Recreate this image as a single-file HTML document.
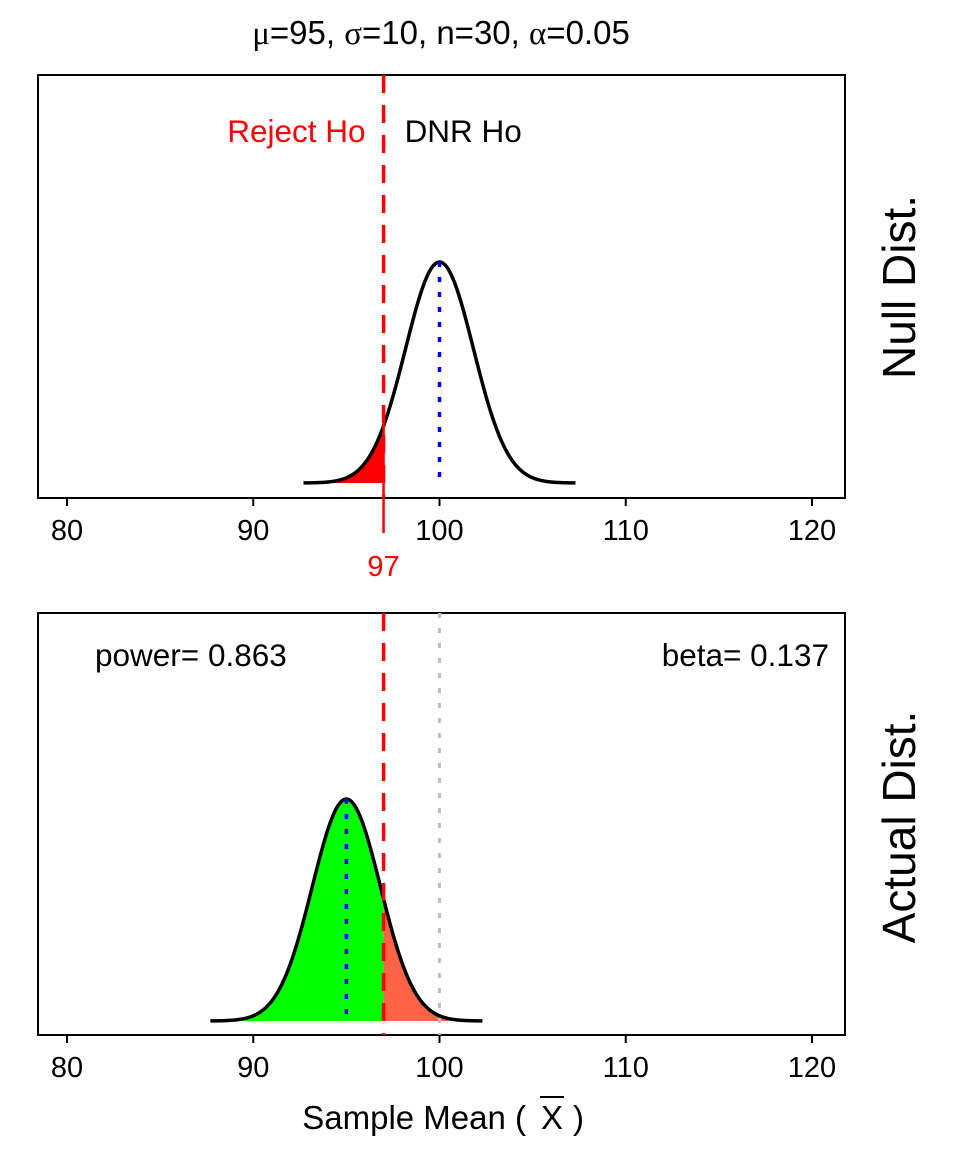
<!DOCTYPE html>
<html><head><meta charset="utf-8">
<style>
body{margin:0;background:#fff;}
svg text{font-family:"Liberation Sans",Arial,sans-serif;}
.g{font-family:"Liberation Serif",serif;}
</style></head>
<body>
<svg id="chart" width="960" height="1152" viewBox="0 0 960 1152" xmlns="http://www.w3.org/2000/svg">
<rect width="960" height="1152" fill="#fff"/>
<text x="441" y="44" font-size="33" text-anchor="middle"><tspan class="g">μ</tspan>=95, <tspan class="g">σ</tspan>=10, n=30, <tspan class="g">α</tspan>=0.05</text>
<g id="top"></g>
<g id="bot"></g>
<text transform="translate(915,287) rotate(-90)" font-size="46" text-anchor="middle">Null Dist.</text>
<text transform="translate(915,827) rotate(-90)" font-size="46" text-anchor="middle">Actual Dist.</text>
<text x="526" y="1129" font-size="33" text-anchor="end">Sample Mean (</text>
<text x="552" y="1129" font-size="33" text-anchor="middle">X</text>
<text x="573" y="1129" font-size="33" text-anchor="start">)</text>
<line x1="540" y1="1097" x2="564" y2="1097" stroke="#000" stroke-width="2"/>
</svg>
<script>
const tickValues=[80,90,100,110,120];
const nullMean=[100];
const actualMean=[95];
const sigmaN=[10,30];
const alphaVal=[0.05];
const labelsText=["power= 0.863","beta= 0.137"];
const NS="http://www.w3.org/2000/svg";
const se=sigmaN[0]/Math.sqrt(sigmaN[1]);
const crit=nullMean[0]-1.6449*se;
function X(v){return 67+(v-80)*18.625;}
function mk(parent,tag,attrs){const e=document.createElementNS(NS,tag);for(const k in attrs)e.setAttribute(k,attrs[k]);parent.appendChild(e);return e;}
function dens(x,m){return Math.exp(-0.5*((x-m)/se)**2);}
function panel(g,top,bottom,base,peak,mean,isNull){
  const Y=v=>base-v*(base-peak);
  const box=mk(g,'rect',{x:38,y:top,width:807,height:bottom-top,fill:'none',stroke:'#000','stroke-width':2});
  
  tickValues.forEach(t=>{
    const l=mk(g,'line',{x1:X(t),y1:bottom,x2:X(t),y2:bottom+8,stroke:'#000','stroke-width':2});
    
    const tx=mk(g,'text',{x:X(t),y:bottom+42,'font-size':29,'text-anchor':'middle'});tx.textContent=t;
    
  });
  const lo=mean-4*se,hi=mean+4*se;
  function area(a,b,fill,name){
    let d=`M${X(a)},${base}`;
    for(let i=0;i<=100;i++){const x=a+(b-a)*i/100;d+=`L${X(x)},${Y(dens(x,mean))}`;}
    d+=`L${X(b)},${base}Z`;
    const p=mk(g,'path',{d:d,fill:fill});
    
  }
  if(isNull){area(lo,crit,'#ff0000','rejection-region');}
  else{area(lo,crit,'#00ff00','power-region');area(crit,hi,'#ff6347','beta-region');}
  let d='';
  for(let i=0;i<=200;i++){const x=lo+(hi-lo)*i/200;d+=(i?'L':'M')+X(x)+','+Y(dens(x,mean));}
  const c=mk(g,'path',{d:d,fill:'none',stroke:'#000','stroke-width':3.5});
  
  if(!isNull){
    const gl=mk(g,'line',{x1:X(nullMean[0]),y1:top,x2:X(nullMean[0]),y2:bottom,stroke:'#bebebe','stroke-width':3,'stroke-dasharray':'5,10'});
    
  }
  const bl=mk(g,'line',{x1:X(mean),y1:Y(1),x2:X(mean),y2:base,stroke:'#0000ff','stroke-width':3.5,'stroke-dasharray':'5,10'});
  
  const rl=mk(g,'line',{x1:X(crit),y1:top,x2:X(crit),y2:bottom,stroke:'#ff0000','stroke-width':3.5,'stroke-dasharray':'18,12'});
  
}
const gt=document.getElementById('top'),gb=document.getElementById('bot');
panel(gt,75,498,483,262,nullMean[0],true);
panel(gb,613,1035,1021,799,actualMean[0],false);
const sl=mk(gt,'line',{x1:X(crit),y1:418,x2:X(crit),y2:533,stroke:'#ff0000','stroke-width':2.5});

const t97=mk(gt,'text',{x:X(crit),y:576,'font-size':29,'text-anchor':'middle',fill:'#ff0000'});t97.textContent=Math.round(crit);

const rj=mk(gt,'text',{x:X(crit)-18,y:142,'font-size':31.5,'text-anchor':'end',fill:'#ff0000'});rj.textContent='Reject Ho';

const dn=mk(gt,'text',{x:X(crit)+21,y:142,'font-size':31.5,'text-anchor':'start'});dn.textContent='DNR Ho';

const pw=mk(gb,'text',{x:95,y:666,'font-size':31.5});pw.textContent=labelsText[0];

const bt=mk(gb,'text',{x:829,y:666,'font-size':31.5,'text-anchor':'end'});bt.textContent=labelsText[1];

</script>
</body></html>
